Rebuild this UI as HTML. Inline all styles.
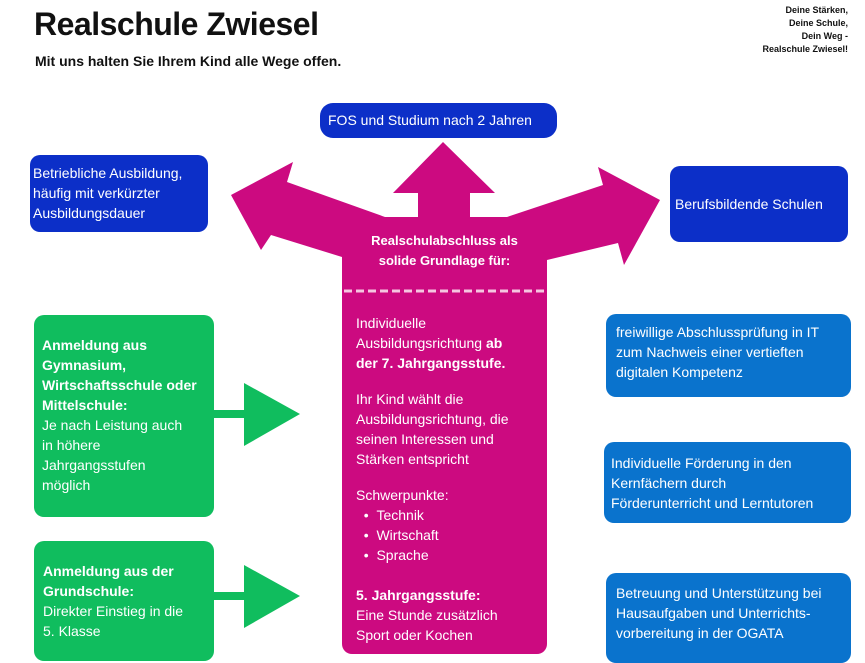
<!DOCTYPE html>
<html><head><meta charset="utf-8"><style>
*{margin:0;padding:0;box-sizing:border-box}
body{width:865px;height:655px;background:#fff;position:relative;overflow:hidden;font-family:"Liberation Sans",sans-serif}
.a{position:absolute}
.t{position:absolute;color:#fff;font-size:14px;line-height:20px;white-space:nowrap}
.box{position:absolute;border-radius:10px}
b{font-weight:bold}
</style></head><body>
<div class="a" style="left:34px;top:6px;font-size:32px;font-weight:bold;color:#111;letter-spacing:-0.5px">Realschule Zwiesel</div>
<div class="a" style="left:35px;top:53px;font-size:14px;font-weight:bold;color:#111">Mit uns halten Sie Ihrem Kind alle Wege offen.</div>
<div class="a" style="right:17px;top:4px;font-size:9px;line-height:13px;font-weight:bold;color:#111;text-align:right">Deine Stärken,<br>Deine Schule,<br>Dein Weg -<br>Realschule Zwiesel!</div>

<div class="box" style="left:320px;top:103px;width:237px;height:35px;background:#0c2fc8;border-radius:13px"></div>
<div class="t" style="left:328px;top:110px">FOS und Studium nach 2 Jahren</div>
<div class="box" style="left:30px;top:155px;width:178px;height:77px;background:#0c2fc8"></div>
<div class="t" style="left:33px;top:163px">Betriebliche Ausbildung,<br>häufig mit verkürzter<br>Ausbildungsdauer</div>
<div class="box" style="left:670px;top:166px;width:178px;height:76px;background:#0c2fc8"></div>
<div class="t" style="left:675px;top:194px">Berufsbildende Schulen</div>

<svg class="a" style="left:0;top:0" width="865" height="655">
<polygon fill="#cc0a80" points="342,257 271,235 261,250 231,195 293,162 287,182 385,217 418,217 418,193 393,193 443,142 495,193 470,193 470,217 507,217 603,185 598,167 660,200 624,265 618,243 547,260 547,300 342,300"/>
<rect x="342" y="250" width="205" height="404" rx="10" fill="#cc0a80"/>
<line x1="344" y1="291" x2="547" y2="291" stroke="#f5c6e0" stroke-width="3" stroke-dasharray="8,4"/>
<polygon fill="#10bd5e" points="214,410 244,410 244,383 300,414 244,446 244,418 214,418"/>
<polygon fill="#10bd5e" points="214,592 244,592 244,565 300,596 244,628 244,600 214,600"/>
</svg>
<div class="t" style="left:342px;width:205px;text-align:center;top:231px;font-size:13px;font-weight:bold">Realschulabschluss als<br>solide Grundlage für:</div>
<div class="t" style="left:356px;top:313px">Individuelle<br>Ausbildungsrichtung <b>ab<br>der 7. Jahrgangsstufe.</b><br><div style="height:16px"></div>Ihr Kind wählt die<br>Ausbildungsrichtung, die<br>seinen Interessen und<br>Stärken entspricht<br><div style="height:16px"></div>Schwerpunkte:<br>&nbsp;&nbsp;•&nbsp;&nbsp;Technik<br>&nbsp;&nbsp;•&nbsp;&nbsp;Wirtschaft<br>&nbsp;&nbsp;•&nbsp;&nbsp;Sprache<br><div style="height:20px"></div><b>5. Jahrgangsstufe:</b><br>Eine Stunde zusätzlich<br>Sport oder Kochen</div>

<div class="box" style="left:34px;top:315px;width:180px;height:202px;background:#10bd5e"></div>
<div class="t" style="left:42px;top:335px"><b>Anmeldung aus<br>Gymnasium,<br>Wirtschaftsschule oder<br>Mittelschule:</b><br>Je nach Leistung auch<br>in höhere<br>Jahrgangsstufen<br>möglich</div>
<div class="box" style="left:34px;top:541px;width:180px;height:120px;background:#10bd5e"></div>
<div class="t" style="left:43px;top:561px"><b>Anmeldung aus der<br>Grundschule:</b><br>Direkter Einstieg in die<br>5. Klasse</div>

<div class="box" style="left:606px;top:314px;width:245px;height:83px;background:#0a73cd"></div>
<div class="t" style="left:616px;top:322px">freiwillige Abschlussprüfung in IT<br>zum Nachweis einer vertieften<br>digitalen Kompetenz</div>
<div class="box" style="left:604px;top:442px;width:247px;height:81px;background:#0a73cd"></div>
<div class="t" style="left:611px;top:453px">Individuelle Förderung in den<br>Kernfächern durch<br>Förderunterricht und Lerntutoren</div>
<div class="box" style="left:606px;top:573px;width:245px;height:90px;background:#0a73cd"></div>
<div class="t" style="left:616px;top:583px">Betreuung und Unterstützung bei<br>Hausaufgaben und Unterrichts-<br>vorbereitung in der OGATA</div>
</body></html>
